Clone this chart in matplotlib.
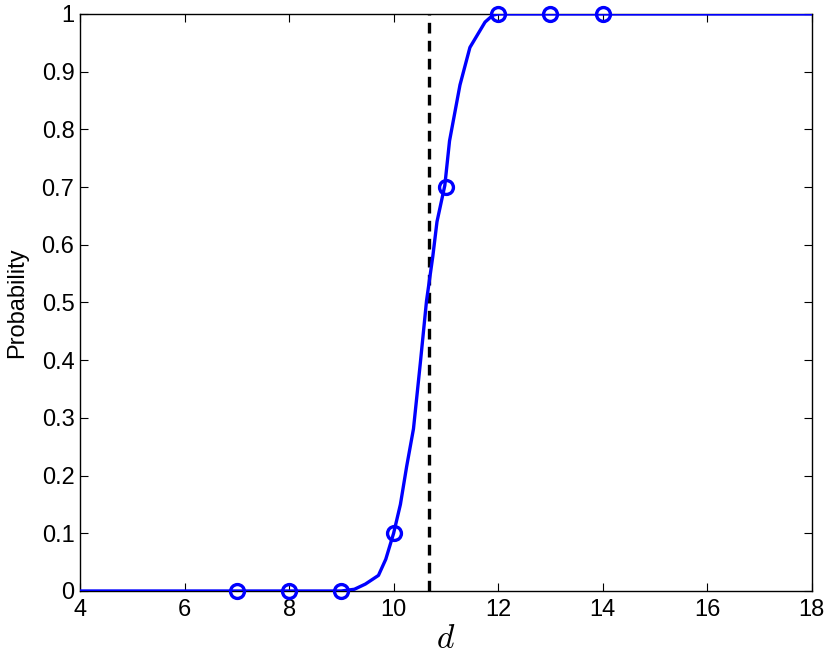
import matplotlib
matplotlib.use("Agg")
import matplotlib.pyplot as plt

# Data
curve_x = [4, 9.0, 9.25, 9.46, 9.71, 9.85, 10.0, 10.13, 10.25, 10.38, 10.51, 10.63, 10.75, 10.83, 10.98, 11.07, 11.27, 11.46, 11.75, 11.9, 12.0, 18]
curve_y = [0, 0, 0.003, 0.012, 0.027, 0.055, 0.1, 0.15, 0.216, 0.281, 0.394, 0.503, 0.58, 0.64, 0.703, 0.78, 0.877, 0.942, 0.986, 0.998, 1.0, 1.0]
obs_x = [7, 8, 9, 10, 11, 12, 13, 14]
obs_y = [0, 0, 0, 0.1, 0.7, 1, 1, 1]
threshold = 10.67

xticks = [4, 6, 8, 10, 12, 14, 16, 18]
yticks = [0, 0.1, 0.2, 0.3, 0.4, 0.5, 0.6, 0.7, 0.8, 0.9, 1]
ytick_labels = ["0", "0.1", "0.2", "0.3", "0.4", "0.5", "0.6", "0.7", "0.8", "0.9", "1"]

plt.rcParams['font.family'] = ['Liberation Sans', 'DejaVu Sans']
plt.rcParams['mathtext.fontset'] = 'cm'

fig = plt.figure(figsize=(8.3, 6.59), dpi=100)
ax = fig.add_axes([0.0964, 0.1032, 0.8816, 0.8756])

ax.plot(curve_x, curve_y, color='#0000ff', lw=2.4, solid_joinstyle='round', zorder=3)
ax.plot(obs_x, obs_y, 'o', mfc='none', mec='#0000ff', mew=2.4, ms=10, zorder=4, clip_on=False)
ax.axvline(threshold, color='black', lw=2.4, ls=(0, (3.2, 2.2)), zorder=2)

ax.set_xlim(4, 18)
ax.set_ylim(0, 1)
ax.set_xticks(xticks)
ax.set_yticks(yticks)
ax.set_yticklabels(ytick_labels)
ax.tick_params(direction='in', top=True, right=True, labelsize=17, length=6, width=0.8)
ax.tick_params(axis='x', pad=6)
ax.tick_params(axis='y', pad=4)
for s in ax.spines.values():
    s.set_linewidth(1.0)

ax.set_ylabel('Probability', fontsize=17, labelpad=10)
ax.set_xlabel('$d$', fontsize=24, labelpad=2)

fig.savefig('out.png', dpi=100)
